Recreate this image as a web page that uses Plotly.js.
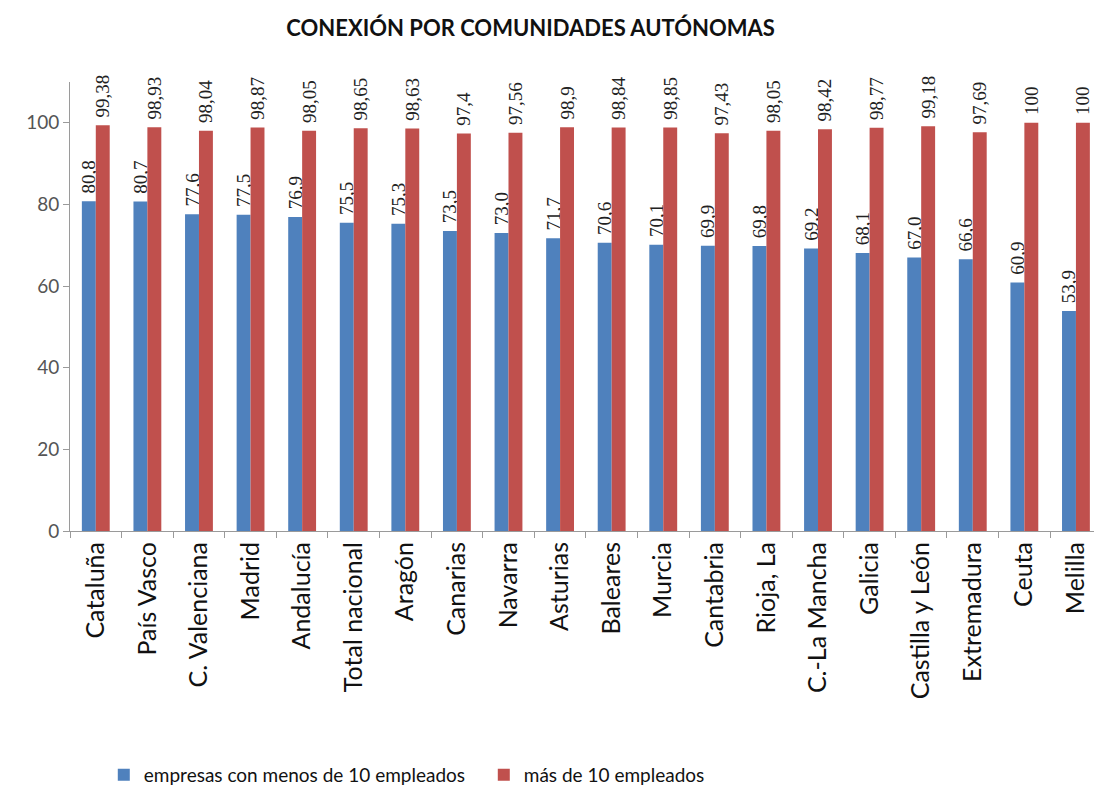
<!DOCTYPE html>
<html>
<head>
<meta charset="utf-8">
<script src="https://cdn.plot.ly/plotly-3.0.1.min.js"></script>
<style>html,body{margin:0;padding:0;background:#fff;}#chart{width:1094px;height:795px;}</style>
</head>
<body>
<div id="chart"></div>
<script>
const categories = ["Cataluña","País Vasco","C. Valenciana","Madrid","Andalucía","Total nacional","Aragón","Canarias","Navarra","Asturias","Baleares","Murcia","Cantabria","Rioja, La","C.-La Mancha","Galicia","Castilla y León","Extremadura","Ceuta","Melilla"];
const menos10 = [80.8,80.7,77.6,77.5,76.9,75.5,75.3,73.5,73.0,71.7,70.6,70.1,69.9,69.8,69.2,68.1,67.0,66.6,60.9,53.9];
const mas10 = [99.38,98.93,98.04,98.87,98.05,98.65,98.63,97.4,97.56,98.9,98.84,98.85,97.43,98.05,98.42,98.77,99.18,97.69,100,100];
const seriesNames = ["empresas con menos de 10 empleados","más de 10 empleados"];
const yTicks = [0,20,40,60,80,100];

const labelsMenos = menos10.map(v => '\u00a0' + v.toFixed(1).replace('.', ','));
const labelsMas = mas10.map(v => '\u00a0' + String(v).replace('.', ','));

const font = "Lato, 'Open Sans', sans-serif";
const common = {
  type: 'bar', x: categories, textposition: 'outside', textangle: -90, constraintext: 'none',
  textfont: {family: "'Liberation Serif', 'DejaVu Serif', serif", size: 19, color: '#222'},
  cliponaxis: false, hoverinfo: 'none'
};
const traces = [
  Object.assign({}, common, {name: seriesNames[0], y: menos10, text: labelsMenos, marker: {color: '#4F81BD'}}),
  Object.assign({}, common, {name: seriesNames[1], y: mas10, text: labelsMas, marker: {color: '#C0504D'}})
];

const layout = {
  width: 1094, height: 795,
  margin: {l: 70, r: 0, t: 82, b: 264},
  paper_bgcolor: '#fff', plot_bgcolor: '#fff',
  font: {family: font, color: '#222'},
  title: {text: 'CONEXIÓN POR COMUNIDADES AUTÓNOMAS', x: 0.485, xanchor: 'center', y: 0.965, yanchor: 'middle', yref: 'container',
          font: {family: font, size: 22, color: '#111', weight: 'bold'}},
  barmode: 'group', bargap: 0.46, bargroupgap: 0,
  xaxis: {
    range: [-0.5, 19.35], tickangle: -90, showgrid: false, showline: true, linecolor: '#9a9a9a', linewidth: 1,
    ticks: 'outside', tickson: 'boundaries', ticklen: 6, tickcolor: '#9a9a9a',
    tickfont: {family: font, size: 25, color: '#111'}, fixedrange: true
  },
  yaxis: {
    range: [0, 110], tickvals: yTicks, showgrid: false, zeroline: false, showline: true, linecolor: '#9a9a9a', linewidth: 1,
    ticks: 'outside', ticklen: 6, tickcolor: '#9a9a9a', tickfont: {family: font, size: 19, color: '#555'}, fixedrange: true
  },
  showlegend: true,
  legend: {orientation: 'h', x: 0.033, xanchor: 'left', y: -0.543, yanchor: 'middle', entrywidth: 335, entrywidthmode: 'pixels',
           font: {family: font, size: 19, color: '#111'}, itemclick: false, itemdoubleclick: false, traceorder: 'normal'}
};
Plotly.newPlot('chart', traces, layout, {displayModeBar: false, staticPlot: true});
</script>
</body>
</html>
